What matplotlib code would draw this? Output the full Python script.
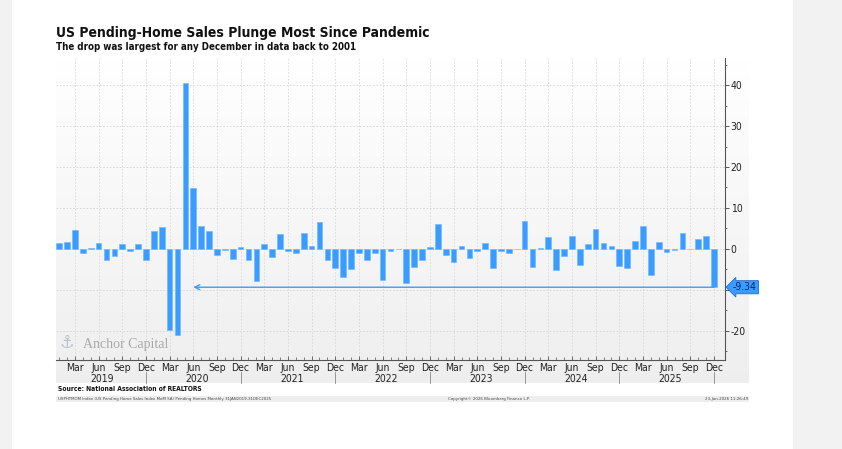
import numpy as np
import matplotlib
matplotlib.use('Agg')
import matplotlib.pyplot as plt
from matplotlib.patches import Rectangle
from matplotlib.transforms import blended_transform_factory

plt.rcParams['font.family'] = ['DejaVu Sans']
plt.rcParams['font.stretch'] = 'condensed'

# 月度数据 2019-01 ~ 2025-12 (MoM %, SA)
years = [2019, 2020, 2021, 2022, 2023, 2024, 2025]
values_2019 = [1.4, 1.6, 4.7, -0.9, 0.2, 1.5, -2.8, -1.7, 1.1, -0.6, 1.2, -2.8]
values_2020 = [4.3, 5.4, -19.8, -21.0, 40.5, 14.9, 5.7, 4.4, -1.5, -0.2, -2.4, 0.4]
values_2021 = [-2.6, -7.8, 1.2, -1.9, 3.7, -0.6, -1.1, 4.0, 0.7, 6.5, -2.8, -4.6]
values_2022 = [-6.8, -4.9, -1.0, -2.8, -1.1, -7.6, -0.4, -0.1, -8.2, -4.4, -2.8, 0.4]
values_2023 = [6.2, -1.5, -3.3, 0.7, -2.3, -0.4, 1.5, -4.6, -0.4, -1.1, -0.1, 6.9]
values_2024 = [-4.3, 0.3, 3.0, -5.1, -1.8, 3.2, -3.8, 1.1, 4.8, 1.5, 0.7, -4.1]
values_2025 = [-4.6, 2.0, 5.5, -6.3, 1.7, -0.7, -0.3, 4.0, -0.1, 2.4, 3.2, -9.34]
month_labels = {2: 'Mar', 5: 'Jun', 8: 'Sep', 11: 'Dec'}
y_ticks = [-20, -10, 0, 10, 20, 30, 40]
last_value = -9.34
arrow_to = 17  # Jun 2020

values = np.array(values_2019 + values_2020 + values_2021 + values_2022
                  + values_2023 + values_2024 + values_2025)
x = np.arange(len(values))

BAR_COLOR = '#3a9cff'
W, H = 842, 449

fig = plt.figure(figsize=(W / 100, H / 100), dpi=100)
fig.patch.set_facecolor('white')

# 左右两侧灰条
fig.patches.append(Rectangle((0, 0), 12 / W, 1, transform=fig.transFigure,
                             facecolor='#f2f2f2', edgecolor='none', zorder=0))
fig.patches.append(Rectangle((793 / W, 0), 1 - 793 / W, 1, transform=fig.transFigure,
                             facecolor='#f2f2f2', edgecolor='none', zorder=0))

# 渐变背景面板
bg = fig.add_axes([56 / W, 1 - 383 / H, (749 - 56) / W, (383 - 58) / H], zorder=0)
grad = np.linspace(1.0, 0.935, 256).reshape(-1, 1)
bg.imshow(np.dstack([grad, grad, grad]), aspect='auto', extent=[0, 1, 0, 1])
bg.set_axis_off()

ax = fig.add_axes([56 / W, 1 - 360 / H, (725 - 56) / W, (360 - 58) / H], zorder=1)
ax.patch.set_alpha(0)

ax.bar(x, values, width=0.72, color=BAR_COLOR, edgecolor='#6cb6ff', linewidth=0.4, zorder=3)

ax.set_xlim(-0.4, 84.4)
ax.set_ylim(-27.1, 46.6)

# 网格
for yt in y_ticks:
    ax.axhline(yt, color='#d4d4d4', linewidth=0.6, linestyle=(0, (2, 2)), zorder=1)
quarter_pos = [i for i in x if (i % 12) in month_labels]
for xp in quarter_pos:
    ax.axvline(xp, color='#d8d8d8', linewidth=0.6, linestyle=(0, (2, 2)), zorder=1)

# 坐标轴
for side in ['left', 'top']:
    ax.spines[side].set_visible(False)
for side in ['right', 'bottom']:
    ax.spines[side].set_color('#555555')
    ax.spines[side].set_linewidth(0.8)

ax.yaxis.tick_right()
ax.set_yticks(y_ticks)
ax.set_yticklabels([str(v) if v != -10 else '' for v in y_ticks])
ax.set_yticks(np.arange(-25, 46, 5), minor=True)
ax.tick_params(axis='y', which='major', length=3, width=0.7, color='#555555',
               labelsize=7.5, pad=1, labelcolor='#222222')
ax.tick_params(axis='y', which='minor', length=1.5, width=0.6, color='#555555')

ax.set_xticks(quarter_pos)
ax.set_xticklabels([month_labels[i % 12] for i in quarter_pos])
ax.set_xticks(x, minor=True)
ax.tick_params(axis='x', which='major', length=3, width=0.6, direction='in',
               color='#555555', labelsize=7.5, pad=2, labelcolor='#222222')
ax.tick_params(axis='x', which='minor', length=2, width=0.5, direction='in', color='#555555')

# 年份标签和分隔线
trans = blended_transform_factory(ax.transData, ax.transAxes)
for k, yr in enumerate(years):
    ax.text(12 * k + 5.5, -0.062, str(yr), transform=trans, ha='center', va='center',
            fontsize=7.5, color='#222222')
    ax.plot([12 * k + 11, 12 * k + 11], [-0.04, -0.076], transform=trans,
            color='#888888', linewidth=0.6, clip_on=False)

# 箭头: 最新值回溯到 2020-06
ax.annotate('', xy=(arrow_to, last_value), xytext=(len(values) - 1, last_value),
            arrowprops=dict(arrowstyle='->', color=BAR_COLOR, lw=1.0,
                            shrinkA=0, shrinkB=0, mutation_scale=9), zorder=4)
ax.text(1.012, last_value, '%.2f' % last_value, transform=ax.get_yaxis_transform(),
        ha='left', va='center', fontsize=7.5, color='#0a2a55', zorder=6, clip_on=False,
        bbox=dict(boxstyle='larrow,pad=0.15', facecolor=BAR_COLOR, edgecolor='#1c6fd0',
                  linewidth=0.6))

# 水印
ax.text(0.005, 0.055, '\u2693', transform=ax.transAxes, fontsize=13, color='#b8c2cc',
        family='DejaVu Sans', va='center', ha='left', zorder=2)
ax.text(0.04, 0.05, 'Anchor Capital', transform=ax.transAxes, fontsize=10,
        color='#a9a9a9', family='Liberation Serif', va='center', ha='left', zorder=2)

# 标题
fig.text(56 / W, 1 - 33 / H, 'US Pending-Home Sales Plunge Most Since Pandemic',
         fontsize=10, fontweight='bold', color='#111111', va='center', ha='left')
fig.text(56 / W, 1 - 47 / H, 'The drop was largest for any December in data back to 2001',
         fontsize=7.0, fontweight='bold', color='#111111', va='center', ha='left')

# 页脚
fig.text(58 / W, 1 - 389 / H, 'Source: National Association of REALTORS',
         fontsize=4.9, fontweight='bold', color='#111111', va='center', ha='left')
fig.patches.append(Rectangle((56 / W, 1 - 402 / H), (749 - 56) / W, 6 / H,
                             transform=fig.transFigure, facecolor='#eeeeee',
                             edgecolor='none', zorder=1))
fig.text(58 / W, 1 - 399 / H,
         'USPHTMOM Index (US Pending Home Sales Index MoM SA) Pending Homes Monthly 31JAN2019-31DEC2025',
         fontsize=3.2, color='#444444', va='center', ha='left', zorder=2)
fig.text(448 / W, 1 - 399 / H, 'Copyright\u00a9 2026 Bloomberg Finance L.P.',
         fontsize=3.2, color='#444444', va='center', ha='left', zorder=2)
fig.text(748 / W, 1 - 399 / H, '23-Jan-2026 11:26:49',
         fontsize=3.2, color='#444444', va='center', ha='right', zorder=2)

fig.savefig('out.png', dpi=100, facecolor='white')
plt.close(fig)
